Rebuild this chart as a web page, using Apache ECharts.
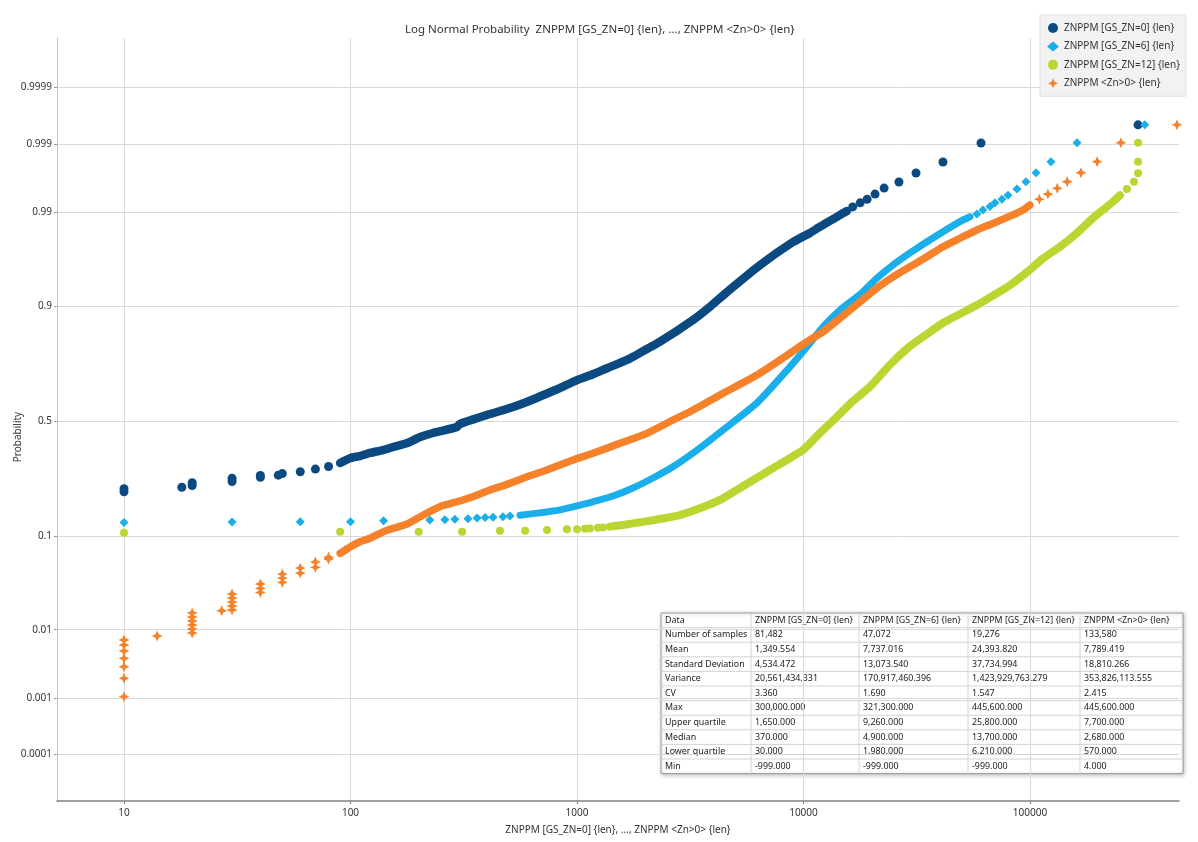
<!DOCTYPE html>
<html><head><meta charset="utf-8">
<script src="https://cdn.jsdelivr.net/npm/echarts@6/dist/echarts.min.js"></script>
<style>html,body{margin:0;padding:0;background:#fff}#c{width:1198px;height:842px}</style>
</head><body><div id="c"></div>
<script>
const FONT = "'Noto Sans', 'Open Sans', sans-serif";

// ---------- names / ticks ----------
const seriesNames = ['ZNPPM [GS_ZN=0] {len}', 'ZNPPM [GS_ZN=6] {len}', 'ZNPPM [GS_ZN=12] {len}', 'ZNPPM <Zn>0> {len}'];
const titleText = 'Log Normal Probability  ZNPPM [GS_ZN=0] {len}, ..., ZNPPM <Zn>0> {len}';
const xAxisTitle = 'ZNPPM [GS_ZN=0] {len}, ..., ZNPPM <Zn>0> {len}';
const yAxisTitle = 'Probability';
const probTickValues = [0.0001, 0.001, 0.01, 0.1, 0.5, 0.9, 0.99, 0.999, 0.9999];
const probTickLabels = ['0.0001', '0.001', '0.01', '0.1', '0.5', '0.9', '0.99', '0.999', '0.9999'];
const xTickValues = [10, 100, 1000, 10000, 100000];

// ---------- GS_ZN=0 ----------
const zn0SparseX = [10, 10, 18, 20, 20, 30, 30, 40, 40, 48, 50, 60, 70, 80, 16500, 17800, 19100, 20700, 22700, 26400, 31400, 41300, 60800, 300000];
const zn0SparseP = [0.215, 0.225, 0.230, 0.236, 0.246, 0.250, 0.262, 0.265, 0.272, 0.273, 0.279, 0.286, 0.296, 0.306, 0.9915, 0.9925, 0.9933, 0.9943, 0.9953, 0.99614, 0.99715, 0.99806, 0.99903, 0.99952];
const zn0DenseX = [90, 100, 110, 122, 139, 154, 178, 203, 231, 295, 304, 400, 490, 600, 783, 840, 1000, 1176, 1357, 1663, 1767, 2325, 3252, 3866, 4597, 6428, 8986, 10683, 11588, 12570, 13497, 14494, 15567];
const zn0DenseP = [0.320, 0.340, 0.348, 0.361, 0.373, 0.386, 0.403, 0.429, 0.447, 0.473, 0.487, 0.527, 0.553, 0.584, 0.631, 0.6435, 0.676, 0.699, 0.722, 0.752, 0.763, 0.8116, 0.870, 0.8987, 0.925, 0.959, 0.977, 0.982, 0.9843, 0.9863, 0.9878, 0.9892, 0.9904];

// ---------- GS_ZN=6 ----------
const zn6SparseX = [10, 30, 60, 100, 140, 224, 261, 289, 330, 362, 393, 426, 471, 506, 58300, 62000, 66600, 70100, 75200, 80000, 87600, 96000, 106300, 123800, 161300, 321300];
const zn6SparseP = [0.129, 0.130, 0.1305, 0.131, 0.133, 0.135, 0.1355, 0.137, 0.138, 0.140, 0.141, 0.142, 0.143, 0.145, 0.9895, 0.9907, 0.9916, 0.9925, 0.9933, 0.9941, 0.99515, 0.99618, 0.99718, 0.99808, 0.99904, 0.99952];
const zn6DenseX = [560, 687, 841, 1000, 1176, 1442, 1767, 2165, 2653, 3491, 4412, 6233, 8716, 10363, 12197, 14494, 17759, 21112, 24846, 29527, 35110, 41305, 49090, 54340];
const zn6DenseP = [0.147, 0.153, 0.161, 0.172, 0.184, 0.2015, 0.2276, 0.2627, 0.305, 0.382, 0.460, 0.580, 0.727, 0.796, 0.853, 0.892, 0.921, 0.9445, 0.959, 0.9695, 0.9772, 0.9826, 0.9869, 0.9886];

// ---------- GS_ZN=12 ----------
const zn12SparseX = [10, 90, 200, 311, 457, 590, 737, 903, 1000, 1085, 1141, 1238, 1302, 268000, 288000, 300000, 300000, 300000];
const zn12SparseP = [0.1066, 0.1086, 0.1086, 0.1086, 0.1107, 0.1107, 0.1122, 0.1137, 0.1137, 0.1149, 0.1156, 0.1171, 0.1178, 0.99515, 0.99618, 0.99712, 0.99808, 0.99904];
const zn12DenseX = [1398, 1596, 1897, 2325, 2849, 3491, 4412, 5517, 7112, 9950, 11825, 14060, 16540, 19660, 24100, 29527, 35110, 41305, 49090, 58340, 68640, 81590, 97000, 114100, 135700, 161300, 189700, 210100, 232600, 249700];
const zn12DenseP = [0.1195, 0.1232, 0.1295, 0.1373, 0.1473, 0.1652, 0.1944, 0.238, 0.2925, 0.373, 0.447, 0.519, 0.588, 0.649, 0.735, 0.798, 0.834, 0.8627, 0.8836, 0.902, 0.919, 0.935, 0.9516, 0.9650, 0.974, 0.982, 0.9882, 0.9907, 0.99275, 0.9941];

// ---------- <Zn>0> ----------
const znPosSparseX = [10, 10, 10, 10, 10, 10, 10, 14, 20, 20, 20, 20, 20, 20, 27, 30, 30, 30, 30, 30, 40, 40, 40, 50, 50, 50, 60, 60, 70, 70, 80, 80, 110000, 120000, 132000, 146000, 168000, 198000, 252000, 445600];
const znPosSparseP = [0.00106, 0.00206, 0.00308, 0.00408, 0.00518, 0.00626, 0.00732, 0.00827, 0.00906, 0.0102, 0.01148, 0.0129, 0.01445, 0.0162, 0.0172, 0.01756, 0.0196, 0.0218, 0.0242, 0.0269, 0.028, 0.031, 0.0346, 0.036, 0.040, 0.044, 0.045, 0.0506, 0.0515, 0.058, 0.062, 0.0647, 0.9933, 0.9943, 0.99526, 0.99618, 0.99718, 0.99808, 0.99904, 0.99952];
const znPosDenseX = [90, 100, 110, 122, 135, 149, 178, 203, 248, 295, 347, 413, 491, 602, 737, 960, 1176, 1548, 2037, 2653, 3155, 4412, 6233, 8716, 10363, 12197, 14494, 17759, 21112, 24846, 29527, 35110, 41305, 49090, 58340, 68640, 81590, 93130, 100000];
const znPosDenseP = [0.070, 0.0806, 0.0892, 0.0955, 0.1053, 0.1137, 0.1255, 0.143, 0.1697, 0.184, 0.1994, 0.221, 0.240, 0.2674, 0.2925, 0.332, 0.3594, 0.4018, 0.4455, 0.5045, 0.5413, 0.621, 0.696, 0.775, 0.8116, 0.840, 0.874, 0.908, 0.931, 0.946, 0.9573, 0.9665, 0.974, 0.9792, 0.9834, 0.9862, 0.9888, 0.9907, 0.9920];

// ---------- statistics table ----------
const statLabels = ['Number of samples', 'Mean', 'Standard Deviation', 'Variance', 'CV', 'Max', 'Upper quartile', 'Median', 'Lower quartile', 'Min'];
const statsZn0 = [81482, 1349.554, 4534.472, 20561434.331, 3.360, 300000, 1650, 370, 30, -999];
const statsZn6 = [47072, 7737.016, 13073.540, 170917460.396, 1.690, 321300, 9260, 4900, 1980, -999];
const statsZn12 = [19276, 24393.820, 37734.994, 1423929763.279, 1.547, 445600, 25800, 13700, 6210, -999];
const statsZnPos = [133580, 7789.419, 18810.266, 353826113.555, 2.415, 445600, 7700, 2680, 570, 4];

// ---------- helpers ----------
function probit(p) {
  const a = [-3.969683028665376e+01, 2.209460984245205e+02, -2.759285104469687e+02, 1.383577518672690e+02, -3.066479806614716e+01, 2.506628277459239e+00];
  const b = [-5.447609879822406e+01, 1.615858368580409e+02, -1.556989798598866e+02, 6.680131188771972e+01, -1.328068155288572e+01];
  const c = [-7.784894002430293e-03, -3.223964580411365e-01, -2.400758277161838e+00, -2.549671010249599e+00, 4.374664141464968e+00, 2.938163982698783e+00];
  const d = [7.784695709041462e-03, 3.224671290700398e-01, 2.445134137142996e+00, 3.754408661907416e+00];
  const pl = 0.02425, ph = 1 - pl;
  let q, r;
  if (p < pl) { q = Math.sqrt(-2 * Math.log(p)); return (((((c[0]*q+c[1])*q+c[2])*q+c[3])*q+c[4])*q+c[5]) / ((((d[0]*q+d[1])*q+d[2])*q+d[3])*q+1); }
  if (p > ph) { q = Math.sqrt(-2 * Math.log(1 - p)); return -(((((c[0]*q+c[1])*q+c[2])*q+c[3])*q+c[4])*q+c[5]) / ((((d[0]*q+d[1])*q+d[2])*q+d[3])*q+1); }
  q = p - 0.5; r = q * q;
  return (((((a[0]*r+a[1])*r+a[2])*r+a[3])*r+a[4])*r+a[5])*q / (((((b[0]*r+b[1])*r+b[2])*r+b[3])*r+b[4])*r+1);
}
const pairs = (xs, ps) => xs.map((x, i) => [x, probit(ps[i])]);
const probTickZ = probTickValues.map(probit);

const STAR = 'path://M50,0 L65,35 L100,50 L65,65 L50,100 L35,65 L0,50 L35,35 Z';
const colors = ['#0b4a80', '#1aaeea', '#bdd531', '#f5822a'];
const symbols = ['circle', 'diamond', 'circle', STAR];
const symbolSizes = [9, 9, 8, 11];
const lineWidths = [8.5, 7, 8, 7.5];
const sparse = [pairs(zn0SparseX, zn0SparseP), pairs(zn6SparseX, zn6SparseP), pairs(zn12SparseX, zn12SparseP), pairs(znPosSparseX, znPosSparseP)];
const dense = [pairs(zn0DenseX, zn0DenseP), pairs(zn6DenseX, zn6DenseP), pairs(zn12DenseX, zn12DenseP), pairs(znPosDenseX, znPosDenseP)];

const series = [];
seriesNames.forEach((name, i) => {
  series.push({
    name, type: 'scatter', data: sparse[i], symbol: symbols[i], symbolSize: symbolSizes[i],
    itemStyle: { color: colors[i], opacity: 1 }, z: 2 + i, silent: true
  });
  series.push({
    name, type: 'line', data: dense[i], showSymbol: false, symbol: 'none', smooth: 0.2,
    lineStyle: { color: colors[i], width: lineWidths[i], cap: 'round', join: 'round' },
    itemStyle: { color: colors[i] }, z: 2 + i, silent: true
  });
});

// ---------- table graphic ----------
const nf3 = new Intl.NumberFormat('en-US', { minimumFractionDigits: 3, maximumFractionDigits: 3 });
const nf0 = new Intl.NumberFormat('en-US', { maximumFractionDigits: 0 });
const statCols = [statsZn0, statsZn6, statsZn12, statsZnPos];
const tblX = 661, tblY = 613, rowH = 14.6;
const colW = [90, 108, 109, 112, 103];
const tblW = colW.reduce((s, v) => s + v, 0);
const nRows = statLabels.length + 1;
const tblH = rowH * nRows;
const tableEls = [];
tableEls.push({ type: 'rect', shape: { x: tblX, y: tblY, width: tblW, height: tblH },
  style: { fill: '#fff', stroke: '#9a9a9a', lineWidth: 1, shadowBlur: 4, shadowColor: 'rgba(0,0,0,0.25)', shadowOffsetX: 1, shadowOffsetY: 1 } });
for (let r = 1; r < nRows; r++) {
  tableEls.push({ type: 'line', shape: { x1: tblX, y1: tblY + r * rowH, x2: tblX + tblW, y2: tblY + r * rowH }, style: { stroke: '#d4d4d4', lineWidth: 1 } });
}
let cx = tblX;
const colX = [];
colW.forEach((w, i) => { colX.push(cx); cx += w; if (i < colW.length - 1) tableEls.push({ type: 'line', shape: { x1: cx, y1: tblY, x2: cx, y2: tblY + tblH }, style: { stroke: '#d4d4d4', lineWidth: 1 } }); });
const cellText = (t, c, r) => ({ type: 'text', x: colX[c] + 4, y: tblY + r * rowH + rowH / 2,
  style: { text: t, font: '8.9px ' + FONT, fill: '#222', textVerticalAlign: 'middle', textAlign: 'left' } });
tableEls.push(cellText('Data', 0, 0));
seriesNames.forEach((n, i) => tableEls.push(cellText(n, i + 1, 0)));
statLabels.forEach((lab, r) => {
  tableEls.push(cellText(lab, 0, r + 1));
  statCols.forEach((col, c) => {
    const v = col[r];
    tableEls.push(cellText(r === 0 ? nf0.format(v) : nf3.format(v), c + 1, r + 1));
  });
});

const chart = echarts.init(document.getElementById('c'), null, { renderer: 'canvas' });
chart.setOption({
  animation: false,
  backgroundColor: '#fff',
  textStyle: { fontFamily: FONT },
  title: { text: titleText, left: 400, top: 19, textStyle: { fontSize: 11.5, fontWeight: 'normal', color: '#333', fontFamily: FONT } },
  legend: {
    left: 1040, top: 15, orient: 'vertical', padding: [8, 6, 8, 7], itemGap: 8.4, itemWidth: 12, itemHeight: 10,
    backgroundColor: '#f2f2f2', borderColor: '#e2e2e2', borderWidth: 1,
    textStyle: { fontSize: 10, color: '#333', fontFamily: FONT },
    data: seriesNames.map((n, i) => ({ name: n, icon: symbols[i] }))
  },
  grid: { left: 57, right: 19, top: 38, bottom: 41, containLabel: false },
  xAxis: {
    type: 'log', min: 5.06, max: 455000, logBase: 10,
    name: xAxisTitle, nameLocation: 'middle', nameGap: 24,
    nameTextStyle: { fontSize: 10, color: '#333', fontFamily: FONT },
    axisLine: { show: true, onZero: false, lineStyle: { color: '#808080', width: 1.5 } },
    axisTick: { show: true, length: 3, customValues: xTickValues, lineStyle: { color: '#808080' } },
    axisLabel: { customValues: xTickValues, fontSize: 10, color: '#333', margin: 7, formatter: v => String(Math.round(v)) },
    splitLine: { show: true, lineStyle: { color: '#d9d9d9', width: 1 } },
    minorSplitLine: { show: false }
  },
  yAxis: {
    type: 'value', min: -4.236, max: 4.27,
    axisLine: { show: true, onZero: false, lineStyle: { color: '#c4c4c4', width: 1 } },
    axisTick: { show: true, length: 3, customValues: probTickZ, lineStyle: { color: '#999' } },
    axisLabel: { customValues: probTickZ, fontSize: 10, color: '#333', margin: 5,
      formatter: v => { let best = 0; probTickZ.forEach((z, i) => { if (Math.abs(z - v) < Math.abs(probTickZ[best] - v)) best = i; }); return probTickLabels[best]; } },
    splitLine: { show: true, lineStyle: { color: '#d9d9d9', width: 1 } }
  },
  graphic: [
    { type: 'text', x: 18, y: 437, rotation: Math.PI / 2, style: { text: yAxisTitle, font: '10px ' + FONT, fill: '#333', textAlign: 'center', textVerticalAlign: 'middle' } },
    { type: 'group', z: 100, children: tableEls }
  ],
  series
});
</script></body></html>
